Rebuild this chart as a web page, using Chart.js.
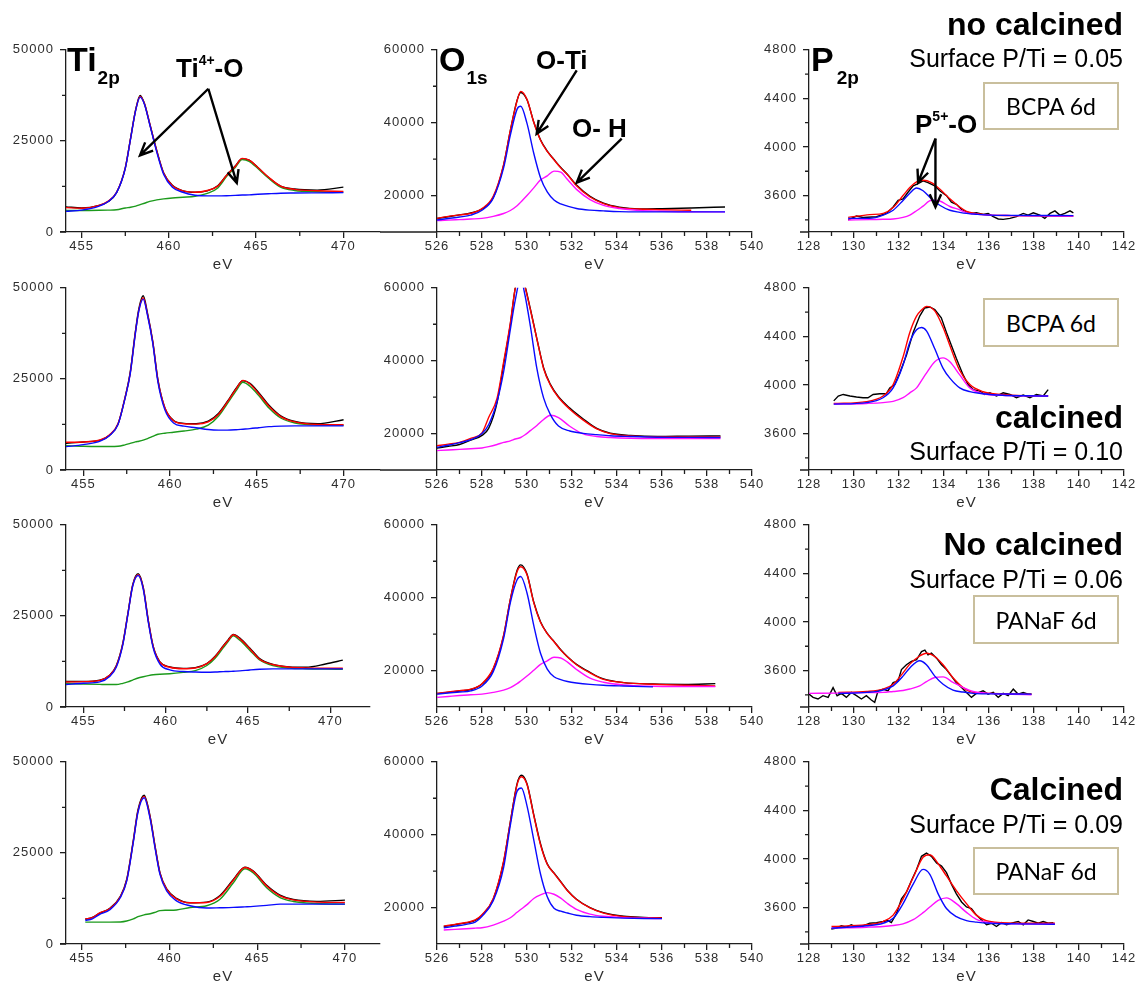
<!DOCTYPE html>
<html><head><meta charset="utf-8">
<script src="https://cdn.jsdelivr.net/npm/chart.js@4.4.1/dist/chart.umd.min.js"></script>
<style>
html,body{margin:0;padding:0;background:#fff;}
body{width:1143px;height:987px;overflow:hidden;position:relative;font-family:"Liberation Sans",Arial,sans-serif;color:#000;}
canvas{position:absolute;}
.t{position:absolute;white-space:nowrap;font-weight:bold;}
.s{position:relative;line-height:0;}
.r{position:absolute;right:20px;white-space:nowrap;text-align:right;}
.box{position:absolute;box-sizing:border-box;border:2px solid #c9bf9d;background:#fff;display:flex;align-items:center;justify-content:center;font-family:Lato,"Open Sans",sans-serif;font-size:23px;}
</style></head>
<body>
<script>
// ---------- tick labels ----------
const tiXTicks = [455, 460, 465, 470];
const tiXMinor = [457.5, 462.5, 467.5];
const tiYTicks = [0, 25000, 50000];
const tiYMinor = [12500, 37500];
const oXTicks = [526, 528, 530, 532, 534, 536, 538, 540];
const oXMinor = [527, 529, 531, 533, 535, 537, 539];
const oYTicks = [20000, 40000, 60000];
const oYMinor = [30000, 50000];
const pXTicks = [128, 130, 132, 134, 136, 138, 140, 142];
const pXMinor = [129, 131, 133, 135, 137, 139, 141];
const pYTicks = [3600, 4000, 4400, 4800];
const pYMinor = [3400, 3800, 4200, 4600];

// ---------- Ti 2p (binding energy, eV) ----------
const tiE1 = [454.1,455,456,456.5,457,457.5,457.8,458.1,458.35,458.6,458.9,459.3,459.7,460.2,460.8,461.5,462.2,462.8,463.3,463.8,464.2,464.6,465.1,465.7,466.4,467.2,468.5,470];
const tiA1 = [5700,6000,7100,8300,10800,17500,25500,33500,37000,35000,29500,22000,15800,12300,10900,10100,9900,9900,9950,10050,10150,10200,10350,10500,10650,10700,10750,10800];
const tiB1 = [5900,5900,5950,6000,6100,6600,6800,7100,7500,7900,8400,8800,9100,9350,9550,9800,10600,12100,15200,17700,19900,19400,17400,14800,12300,11400,11050,10950];
const tiEnv1 = [6700,6500,7300,8400,10900,17600,25600,33600,37200,35200,29700,22300,16100,12700,11300,10900,11400,12600,15500,18000,20200,19700,17700,15100,12600,11700,11300,11150];
const tiRaw1 = [6900,6600,7300,8300,10800,17600,25700,33700,37500,35200,29700,22400,16200,12800,11300,10900,11300,12700,15500,18100,20100,19700,17700,15000,12600,11800,11500,12300];

const tiE2 = [454.0,455,456,456.5,457,457.4,457.7,458.0,458.2,458.45,458.7,459.0,459.3,459.7,460.2,460.8,461.5,462.2,462.8,463.3,463.8,464.2,464.6,465.1,465.7,466.4,467.2,468.5,470];
const tiA2 = [6400,6950,8000,9400,12500,19600,26300,37500,43700,46900,42400,34800,24100,16500,12900,12050,11600,11100,10950,10950,11050,11200,11350,11600,11900,12050,12100,12100,12100];
const tiB2 = [6700,6500,6450,6450,6500,6900,7300,7700,7900,8200,8600,9200,9800,10100,10350,10700,11200,12300,14800,18200,21700,24100,23000,20500,17000,14200,12900,12350,12300];
const tiEnv2 = [7600,7700,8300,9600,12700,19800,26500,37700,43900,47300,42700,35200,24600,17100,13500,12700,12600,13200,15300,18600,22200,24600,23600,21000,17500,14600,13200,12500,12400];
const tiRaw2 = [7300,7700,8200,9500,12600,19800,26800,38000,44300,47800,43000,35300,24700,17000,13600,12800,12700,13400,15600,18800,22400,24500,23800,21300,17800,14800,13300,12700,13800];

const tiE3 = [453.95,455,456,456.6,457.0,457.4,457.7,458.0,458.33,458.64,458.94,459.24,459.65,460.25,461.06,461.8,462.5,463.0,463.5,463.8,464.1,464.5,465.1,465.7,466.5,467.5,468.5,469.7,470.75];
const tiA3 = [6160,6500,6880,8390,10900,17140,25200,33200,36070,32300,23400,16250,11790,10180,9730,9600,9550,9600,9700,9750,9820,9900,10150,10350,10450,10450,10450,10450,10450];
const tiB3 = [6430,6300,6200,6160,6160,6500,6880,7400,7950,8300,8600,8840,9000,9110,9500,10000,11400,13400,16300,18040,19550,18300,15600,12900,11340,10710,10500,10400,10360];
const tiEnv3 = [6880,6950,7320,8700,11200,17400,25400,33400,36300,32600,23800,16600,12300,10900,10500,10700,11900,13800,16700,18300,19820,18700,16000,13100,11650,10950,10750,10650,10630];
const tiRaw3 = [7000,7000,7350,8700,11300,17500,25500,33600,36600,32800,23900,16700,12400,11000,10600,10800,11900,13900,16800,18500,19900,18900,16200,13300,11700,11000,10900,11790,12860];

const tiE4 = [455.2,455.6,456.0,456.6,457.2,457.56,457.94,458.2,458.55,458.9,459.18,459.46,459.84,460.4,461.17,462.12,462.88,463.64,464.3,464.78,465.54,466.3,467.06,468.4,470];
const tiA4 = [6460,6900,8080,9400,12750,17240,28000,36090,40130,34290,26210,19030,14540,11850,10500,9870,9950,10050,10200,10320,10600,10950,10950,10950,10950];
const tiB4 = [6010,6010,6010,6010,6050,6300,6910,7500,8000,8300,8700,9160,9250,9340,10000,10500,12300,16790,20650,19480,15440,12750,11670,11130,10950];
const tiEnv4 = [6910,7200,8500,9700,13000,17500,28300,36400,40500,34700,26600,19400,15000,12400,11300,11400,13100,17500,21000,19900,15900,13200,12100,11500,11400];
const tiRaw4 = [6800,7300,8400,9800,13100,17700,28500,36700,40800,34900,26800,19500,15100,12500,11300,11500,13300,17700,21100,20000,16100,13400,12200,11700,12030];

// ---------- O 1s ----------
const oE1 = [526.0,526.5,527.0,527.5,528.0,528.5,528.96,529.26,529.56,529.72,530.0,530.3,530.6,530.9,531.2,531.5,531.8,532.2,532.8,533.4,534.1,535.0,536.0,537.3,538.8];
const oTi1 = [13290,13700,14100,14630,15970,19300,27600,36560,43720,44500,39800,31600,24900,21000,18800,17700,17100,16450,16000,15790,15600,15530,15530,15530,15530];
const oOH1 = [13110,13250,13400,13550,13740,14300,15080,15900,17200,18200,20000,22100,24300,25400,26700,26400,24400,21700,18900,17300,16450,15900,15700,15550,15530];
const oEnv1 = [13740,14300,14700,15100,16420,19800,28500,37900,46000,48600,46400,40100,35200,32100,29800,27600,25700,22700,19600,17800,16700,16300,16100,15970,null];
const oRaw1 = [13700,14200,14700,15200,16300,19500,28300,37800,46200,48300,46300,40200,35300,32200,29900,27700,25800,22900,19800,17900,16800,16300,16400,16600,16870];

const oE2 = [526.0,526.5,527.0,527.5,528.0,528.3,528.67,528.96,529.26,529.48,529.72,529.9,530.15,530.44,530.74,531.04,531.4,531.9,532.5,533.1,533.7,534.6,535.8,537.2,538.6];
const oTi2 = [16220,16800,17500,18300,20000,22500,28810,36900,48590,56700,62500,58300,49480,37800,29710,25210,22070,20700,20050,19700,19400,19200,19000,18950,18920];
const oOH2 = [15330,15500,15650,15850,16040,16400,17000,17570,18000,18500,18920,19600,20800,22200,23870,25030,24400,22000,19900,19200,18900,18700,18650,18650,18650];
const oEnv2 = [16670,17100,17600,18700,20200,24500,29710,39600,50380,60000,64000,60500,53980,45890,37800,33300,29900,26700,23700,21300,20000,19370,19100,19100,19100];
const oRaw2 = [16040,16500,17000,18200,19500,21500,28500,39000,50000,60000,64500,60800,54200,46000,38000,33500,30100,27000,24000,21400,20100,19500,19200,19300,19370];

const oE3 = [526.0,526.5,527.0,527.5,528.0,528.5,528.96,529.26,529.56,529.72,530.0,530.3,530.6,530.9,531.2,531.5,531.8,532.2,532.8,533.4,534.3,535.6,537.0,538.37];
const oTi3 = [13540,13850,14100,14440,15780,19700,28790,38650,44930,45800,41300,32400,24750,20400,18300,17500,17000,16600,16200,15950,15750,15520,null,null];
const oOH3 = [12650,12900,13150,13350,13540,14000,14620,15300,16400,17130,18500,20100,21700,22690,23650,23450,22300,20300,17900,16800,16050,15700,15620,15600];
const oEnv3 = [13720,14100,14500,14890,16410,20600,29690,39550,47180,48500,46280,38650,33270,30130,27900,25600,23700,21610,19370,17580,16680,16230,15950,15780];
const oRaw3 = [13720,14000,14400,14800,16300,20400,29500,39500,47500,49000,46500,38800,33400,30200,28000,25700,23800,21700,19500,17700,16700,16300,16200,16410];

const oE4 = [526.3,526.8,527.3,527.7,528.0,528.5,528.96,529.26,529.56,529.75,530.0,530.3,530.6,530.9,531.2,531.5,531.8,532.2,532.8,533.4,534.3,535.2,536.0];
const oTi4 = [14460,14900,15400,16000,17590,21900,30980,42590,51960,52800,47900,38570,29200,22950,19800,19000,18500,17900,17500,17300,17100,17000,16960];
const oOH4 = [13840,14000,14200,14350,14460,15200,16250,17200,18700,19600,20800,22500,23500,24100,23650,22570,21100,19500,18200,17600,17250,17050,16960];
const oEnv4 = [14910,15400,15900,16600,18040,22500,32770,43480,53750,55900,53750,45270,37230,31880,29400,27000,24600,22200,19900,18480,17500,17200,17140];
const oRaw4 = [14800,15300,15800,16500,17900,22300,32500,43500,54000,56300,54000,45500,37500,32000,29500,27100,24700,22300,20000,18600,17600,17300,17200];

// ---------- P 2p ----------
const pRawE1 = [129.74,130.11,130.40,131.0,131.44,131.74,131.96,132.18,132.40,132.63,132.85,133.07,133.29,133.59,133.81,133.96,134.11,134.33,134.55,134.78,135.0,135.22,135.44,135.74,135.96,136.19,136.41,136.63,136.93,137.22,137.52,137.74,137.97,138.26,138.48,138.71,138.93,139.15,139.37,139.6,139.75];
const pRaw1 = [3399,3431,3420,3426,3453,3506,3560,3573,3627,3680,3699,3721,3707,3680,3640,3619,3600,3546,3528,3485,3466,3453,3458,3445,3453,3426,3407,3404,3412,3426,3453,3439,3458,3439,3412,3453,3474,3439,3453,3474,3458];
const pE1 = [129.74,130.7,131.3,131.74,132.18,132.48,132.78,133.07,133.44,133.81,134.26,134.7,135.0,135.5,136.04,137,138,139.75];
const pA1 = [3412,3412,3439,3479,3560,3619,3662,3640,3573,3520,3479,3462,3453,3445,3439,3437,3436,3435];
const pB1 = [3399,3402,3405,3407,3420,3439,3475,3513,3562,3555,3510,3482,3458,3445,3439,3435,3433,3431];
const pEnv1 = [3420,3443,3453,3501,3600,3667,3713,3726,3707,3654,3573,3506,3470,3450,3439,3435,3433,3431];

const pRawE2 = [129.10,129.30,129.52,129.82,130.11,130.40,130.62,130.85,131.15,131.44,131.59,131.81,132.03,132.33,132.63,132.92,133.14,133.37,133.59,133.88,134.11,134.33,134.55,134.85,135.07,135.30,135.59,135.81,136.04,136.33,136.63,136.93,137.22,137.52,137.82,138.11,138.41,138.63];
const pRaw2 = [3869,3909,3922,3909,3901,3895,3895,3922,3928,3928,3976,4003,4097,4244,4432,4567,4634,4642,4620,4553,4432,4325,4218,4083,4003,3962,3949,3922,3936,3909,3936,3922,3895,3917,3895,3922,3909,3962];
const pE2 = [129.1,130.55,131.29,131.74,132.18,132.48,132.78,133.0,133.22,133.59,133.96,134.26,134.7,135.15,135.74,136.6,137.6,138.63];
const pA2 = [3842,3855,3895,3976,4164,4352,4454,4473,4446,4298,4137,4056,3976,3945,3928,3915,3911,3909];
const pB2 = [3842,3848,3855,3865,3895,3935,3976,4036,4097,4191,4223,4191,4083,3976,3928,3914,3910,3909];
const pEnv2 = [3847,3863,3909,4003,4231,4432,4567,4617,4647,4610,4473,4325,4119,4003,3944,3922,3912,3909];

const pRawE3 = [128.0,128.18,128.40,128.62,128.85,129.07,129.25,129.44,129.66,129.88,130.11,130.33,130.55,130.77,130.92,131.07,131.29,131.51,131.74,131.96,132.11,132.33,132.55,132.78,133.0,133.15,133.29,133.44,133.67,133.89,134.11,134.33,134.55,134.78,135.0,135.22,135.44,135.74,135.96,136.19,136.41,136.63,136.85,137.08,137.30,137.52,137.74,137.89];
const pRaw3 = [3406,3379,3366,3393,3379,3460,3393,3412,3379,3420,3393,3366,3393,3358,3339,3433,3447,3433,3500,3514,3608,3648,3675,3689,3756,3769,3729,3743,3702,3648,3608,3554,3500,3460,3420,3379,3412,3433,3406,3420,3379,3412,3393,3447,3406,3420,3406,3406];
const pE3 = [128.0,129.3,130.55,131.29,131.74,132.18,132.48,132.92,133.22,133.59,133.96,134.4,134.85,135.3,136.04,137.0,137.89];
const pA3 = [null,3412,3420,3439,3474,3554,3622,3681,3648,3554,3487,3439,3423,3412,3408,3407,3406];
const pB3 = [3412,3414,3418,3420,3428,3436,3448,3474,3509,3543,3548,3503,3460,3428,3412,3405,3401];
const pEnv3 = [null,3420,3428,3447,3487,3581,3653,3720,3743,3716,3648,3541,3460,3420,3412,3408,3406];

const pRawE4 = [128.99,129.22,129.44,129.66,129.88,130.11,130.40,130.70,131.0,131.29,131.51,131.66,131.89,132.11,132.33,132.55,132.78,133.0,133.22,133.44,133.67,133.89,134.11,134.33,134.55,134.78,135.0,135.22,135.44,135.67,135.89,136.11,136.33,136.56,136.78,137.08,137.30,137.52,137.74,137.97,138.19,138.41,138.63,138.86];
const pRaw4 = [3423,3431,3450,3439,3458,3439,3450,3471,3476,3485,3493,3476,3552,3672,3726,3820,3914,4022,4048,4022,3968,3941,3887,3793,3713,3646,3605,3592,3538,3498,3458,3471,3444,3476,3458,3476,3485,3458,3498,3485,3471,3485,3471,3476];
const pE4 = [129.0,130.55,131.29,131.74,132.18,132.63,133.07,133.37,133.74,134.11,134.55,135.0,135.44,136.04,137.22,138.93];
const pA4 = [3431,3450,3471,3511,3632,3793,3914,3874,3713,3592,3525,3492,3480,3471,3466,3463];
const pB4 = [3431,3438,3444,3452,3466,3500,3558,3605,3659,3680,3632,3560,3503,3476,3466,3463];
const pEnv4 = [3444,3458,3485,3538,3672,3847,4015,4035,3961,3860,3740,3632,3538,3485,3471,3471];

// ---------- callout arrows (data coordinates: from x,y -> to x,y) ----------
const tiArrows = [[462.26, 39310, 458.34, 21040], [462.26, 39310, 463.89, 13450]];
const oArrows = [[532.21, 54370, 530.43, 36960], [534.21, 35620, 532.21, 23560]];
const pArrows = [[133.62, 4069, 132.85, 3707], [133.62, 4069, 133.62, 3506]];

// ---------- styling ----------
const FONT = '"Liberation Sans", Arial, sans-serif';
const AXIS = '#1e1e1e', LABEL = '#2e2e2e';
const BLUE = '#0a0aff', RED = '#ff0000', GREEN = '#1c9a1c', MAGENTA = '#ff10ff', BLACK = '#000000';
const fit = (x, y, c) => ({x, y, c, smooth: true});
const raw = (x, y) => ({x, y, c: BLACK, smooth: false});

const TI = {xMajor: tiXTicks, xMinor: tiXMinor, yMin: 0, yMax: 50000, yMajor: tiYTicks, yMinor: tiYMinor};
const OX = {xMin: 526, xMax: 540, xMajor: oXTicks, xMinor: oXMinor, yMin: 10000, yMax: 60000, yMajor: oYTicks, yMinor: oYMinor};
const PX = {xMin: 128, xMax: 142, xMajor: pXTicks, xMinor: pXMinor, yMin: 3300, yMax: 4800, yMajor: pYTicks, yMinor: pYMinor};
const rowTop = [46, 284, 521, 758];

const panels = [
  {...TI, axisX: 66, top: rowTop[0], areaW: 314, xMin: 454.1, xMax: 472.1, ext: 6, arrows: tiArrows,
   series: [fit(tiE1, tiA1, BLUE), fit(tiE1, tiEnv1, RED), fit(tiE1, tiB1, GREEN), fit(tiE1, tiRaw1, BLACK)]},
  {...TI, axisX: 66, top: rowTop[1], areaW: 314, xMin: 454.0, xMax: 472.1, ext: 6,
   series: [fit(tiE2, tiA2, BLUE), fit(tiE2, tiEnv2, RED), fit(tiE2, tiB2, GREEN), fit(tiE2, tiRaw2, BLACK)]},
  {...TI, axisX: 66, top: rowTop[2], areaW: 304, xMin: 453.95, xMax: 472.4, ext: 6,
   series: [fit(tiE3, tiA3, BLUE), fit(tiE3, tiEnv3, RED), fit(tiE3, tiB3, GREEN), fit(tiE3, tiRaw3, BLACK)]},
  {...TI, axisX: 66, top: rowTop[3], areaW: 314, xMin: 454.1, xMax: 472.0, ext: 6,
   series: [fit(tiE4, tiA4, BLUE), fit(tiE4, tiEnv4, RED), fit(tiE4, tiB4, GREEN), fit(tiE4, tiRaw4, BLACK)]},

  {...OX, axisX: 437, top: rowTop[0], areaW: 315, ext: 57, arrows: oArrows,
   series: [fit(oE1, oTi1, BLUE), fit(oE1, oOH1, MAGENTA), fit(oE1, oEnv1, RED), fit(oE1, oRaw1, BLACK)]},
  {...OX, axisX: 437, top: rowTop[1], areaW: 315, ext: 57,
   series: [fit(oE2, oTi2, BLUE), fit(oE2, oOH2, MAGENTA), fit(oE2, oEnv2, RED), fit(oE2, oRaw2, BLACK)]},
  {...OX, axisX: 437, top: rowTop[2], areaW: 315, ext: 0,
   series: [fit(oE3, oTi3, BLUE), fit(oE3, oOH3, MAGENTA), fit(oE3, oEnv3, RED), fit(oE3, oRaw3, BLACK)]},
  {...OX, axisX: 437, top: rowTop[3], areaW: 315, ext: 0,
   series: [fit(oE4, oTi4, BLUE), fit(oE4, oOH4, MAGENTA), fit(oE4, oEnv4, RED), fit(oE4, oRaw4, BLACK)]},

  {...PX, axisX: 809, top: rowTop[0], areaW: 315, ext: 9, arrows: pArrows,
   series: [fit(pE1, pA1, BLUE), fit(pE1, pB1, MAGENTA), fit(pE1, pEnv1, RED), raw(pRawE1, pRaw1)]},
  {...PX, axisX: 809, top: rowTop[1], areaW: 315, ext: 9,
   series: [fit(pE2, pA2, BLUE), fit(pE2, pB2, MAGENTA), fit(pE2, pEnv2, RED), raw(pRawE2, pRaw2)]},
  {...PX, axisX: 809, top: rowTop[2], areaW: 315, ext: 9,
   series: [fit(pE3, pA3, BLUE), fit(pE3, pB3, MAGENTA), fit(pE3, pEnv3, RED), raw(pRawE3, pRaw3)]},
  {...PX, axisX: 809, top: rowTop[3], areaW: 315, ext: 9,
   series: [fit(pE4, pA4, BLUE), fit(pE4, pB4, MAGENTA), fit(pE4, pEnv4, RED), raw(pRawE4, pRaw4)]}
];

const YW = 66, PADT = 10, PADR = 20, XH = 42, AREAH = 186;

function extrasFor(cfg) {
  return {
    id: 'extras',
    beforeDraw(chart) { chart.ctx.letterSpacing = '1px'; },
    afterDraw(chart) {
      const {ctx, chartArea: a, scales: {x, y}} = chart;
      ctx.save();
      ctx.strokeStyle = AXIS; ctx.lineWidth = 1.3; ctx.lineCap = 'butt';
      ctx.beginPath();
      if (cfg.ext) { ctx.moveTo(a.left - cfg.ext, a.bottom); ctx.lineTo(a.left, a.bottom); }
      cfg.xMinor.forEach(v => { const p = x.getPixelForValue(v); ctx.moveTo(p, a.bottom); ctx.lineTo(p, a.bottom + 4); });
      cfg.yMinor.forEach(v => { const p = y.getPixelForValue(v); ctx.moveTo(a.left, p); ctx.lineTo(a.left - 4, p); });
      ctx.stroke();
      ctx.strokeStyle = '#000'; ctx.lineWidth = 2.4; ctx.lineJoin = 'miter';
      (cfg.arrows || []).forEach(([x0, y0, x1, y1]) => {
        const X0 = x.getPixelForValue(x0), Y0 = y.getPixelForValue(y0);
        const X1 = x.getPixelForValue(x1), Y1 = y.getPixelForValue(y1);
        const ang = Math.atan2(Y1 - Y0, X1 - X0), L = 14, h = 0.42;
        ctx.beginPath();
        ctx.moveTo(X0, Y0); ctx.lineTo(X1, Y1);
        ctx.moveTo(X1 - L * Math.cos(ang - h), Y1 - L * Math.sin(ang - h));
        ctx.lineTo(X1, Y1);
        ctx.lineTo(X1 - L * Math.cos(ang + h), Y1 - L * Math.sin(ang + h));
        ctx.stroke();
      });
      ctx.restore();
    }
  };
}

panels.forEach((cfg, i) => {
  const cv = document.createElement('canvas');
  const W = YW + cfg.areaW + PADR, H = PADT + AREAH + XH;
  cv.width = W; cv.height = H;
  cv.style.left = (cfg.axisX - YW) + 'px';
  cv.style.top = (cfg.top - PADT) + 'px';
  cv.style.width = W + 'px'; cv.style.height = H + 'px';
  document.body.appendChild(cv);
  new Chart(cv, {
    type: 'line',
    data: {
      datasets: cfg.series.map(s => ({
        data: s.x.map((v, k) => ({x: v, y: s.y[k]})),
        borderColor: s.c,
        borderWidth: 1.4,
        pointRadius: 0,
        fill: false,
        spanGaps: false,
        tension: s.smooth ? 0.4 : 0,
        cubicInterpolationMode: s.smooth ? 'monotone' : 'default'
      }))
    },
    options: {
      responsive: false, animation: false, events: [],
      devicePixelRatio: 1,
      layout: {padding: {top: PADT, right: PADR, left: 0, bottom: 0}},
      plugins: {legend: {display: false}, tooltip: {enabled: false}},
      scales: {
        x: {
          type: 'linear', min: cfg.xMin, max: cfg.xMax,
          afterBuildTicks: s => { s.ticks = cfg.xMajor.map(v => ({value: v})); },
          afterFit: s => { s.height = XH; },
          grid: {display: true, drawOnChartArea: false, drawTicks: true, tickLength: 6, color: AXIS, lineWidth: 1.3},
          border: {display: true, color: AXIS, width: 1.3},
          ticks: {font: {family: FONT, size: 13}, color: LABEL, padding: 1, maxRotation: 0, autoSkip: false, callback: v => String(v)},
          title: {display: true, text: 'eV', font: {family: FONT, size: 15}, color: LABEL, padding: 0}
        },
        y: {
          type: 'linear', min: cfg.yMin, max: cfg.yMax,
          afterBuildTicks: s => { s.ticks = cfg.yMajor.map(v => ({value: v})); },
          afterFit: s => { s.width = YW; },
          grid: {display: true, drawOnChartArea: false, drawTicks: true, tickLength: 6, color: AXIS, lineWidth: 1.3},
          border: {display: true, color: AXIS, width: 1.3},
          ticks: {font: {family: FONT, size: 13}, color: LABEL, padding: 6, autoSkip: false, callback: v => String(v)}
        }
      }
    },
    plugins: [extrasFor(cfg)]
  });
});
</script>

<!-- panel titles and callouts -->
<div class="t" style="left:67px;top:42px;font-size:34px;line-height:34px;">Ti<span class="s" style="font-size:19px;top:13px;margin-left:1px;">2p</span></div>
<div class="t" style="left:176px;top:55px;font-size:26px;line-height:26px;">Ti<span class="s" style="font-size:14px;top:-12px;">4+</span>-O</div>

<div class="t" style="left:439px;top:42px;font-size:34px;line-height:34px;">O<span class="s" style="font-size:19px;top:13px;margin-left:1px;">1s</span></div>
<div class="t" style="left:536px;top:47px;font-size:26px;line-height:26px;">O-Ti</div>
<div class="t" style="left:572px;top:115px;font-size:26px;line-height:26px;">O- H</div>

<div class="t" style="left:811px;top:42px;font-size:34px;line-height:34px;">P<span class="s" style="font-size:19px;top:13px;margin-left:3px;">2p</span></div>
<div class="t" style="left:915px;top:111px;font-size:26px;line-height:26px;">P<span class="s" style="font-size:14px;top:-12px;">5+</span>-O</div>

<!-- sample descriptions -->
<div class="r" style="top:8px;font-size:32px;line-height:32px;font-weight:bold;">no calcined</div>
<div class="r" style="top:46px;font-size:25px;line-height:25px;">Surface P/Ti = 0.05</div>
<div class="box" style="left:983px;top:82px;width:136px;height:48px;">BCPA 6d</div>

<div class="box" style="left:983px;top:298px;width:136px;height:49px;">BCPA 6d</div>
<div class="r" style="top:401px;font-size:32px;line-height:32px;font-weight:bold;">calcined</div>
<div class="r" style="top:439px;font-size:25px;line-height:25px;">Surface P/Ti = 0.10</div>

<div class="r" style="top:528px;font-size:32px;line-height:32px;font-weight:bold;">No calcined</div>
<div class="r" style="top:567px;font-size:25px;line-height:25px;">Surface P/Ti = 0.06</div>
<div class="box" style="left:973px;top:595px;width:146px;height:49px;">PANaF 6d</div>

<div class="r" style="top:773px;font-size:32px;line-height:32px;font-weight:bold;">Calcined</div>
<div class="r" style="top:812px;font-size:25px;line-height:25px;">Surface P/Ti = 0.09</div>
<div class="box" style="left:973px;top:847px;width:146px;height:48px;">PANaF 6d</div>
</body></html>
